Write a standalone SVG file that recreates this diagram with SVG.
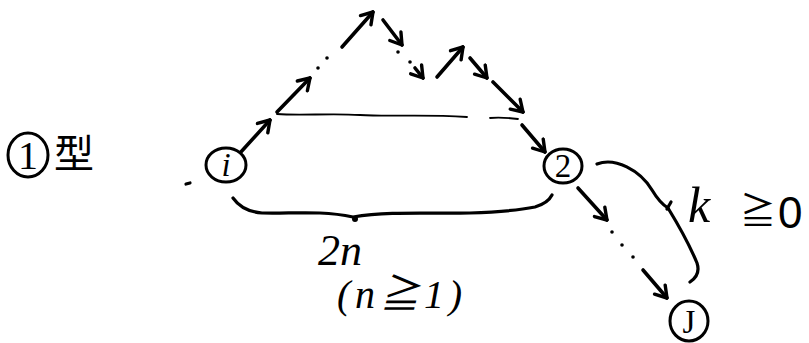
<svg xmlns="http://www.w3.org/2000/svg" width="809" height="343" viewBox="0 0 809 343">
<style>
.ln{fill:none;stroke:#000;stroke-width:3.2;stroke-linecap:round;stroke-linejoin:round}
.ar{fill:none;stroke:#000;stroke-width:3.6;stroke-linecap:round;marker-end:url(#hd)}
.dash{fill:none;stroke:#000;stroke-width:1.8;stroke-linecap:round}
.nd{fill:#fff;stroke:#000;stroke-width:3}
.t{font-family:"Liberation Serif","Noto Sans CJK JP",serif;fill:#000}
.nl{font-family:"Liberation Serif",serif;font-size:33px;text-anchor:middle;fill:#000}
.dot{fill:#000}
</style>
<defs>
<marker id="hd" viewBox="-14 -9 16 18" refX="0" refY="0" markerWidth="16" markerHeight="18" markerUnits="userSpaceOnUse" orient="auto">
<path d="M-11,-7 L0,0 L-11,7" fill="none" stroke="#000" stroke-width="3.4" stroke-linecap="round" stroke-linejoin="round"/>
</marker>
</defs>
<rect width="809" height="343" fill="#fff"/>

<g id="title">
<ellipse cx="28" cy="155" rx="20" ry="22" class="nd"/>
<text class="t" x="28" y="169" font-size="40" text-anchor="middle">1</text>
<text class="t" x="54" y="168" font-size="40">型</text>
</g>

<g id="connectors">
<path class="dash" d="M277,114 C300,116 330,113 360,115 C390,117 420,114 467,117"/>
<path class="dash" d="M490,118 C500,117 510,118 518,119"/>
<line class="ar" x1="240" y1="153" x2="270" y2="120"/>
<line class="ar" x1="277" y1="112" x2="310" y2="78"/>
<line class="ar" x1="342" y1="47" x2="373" y2="12"/>
<line class="ar" x1="383" y1="20" x2="402" y2="45"/>
<line class="ar" x1="415" y1="68" x2="423" y2="78"/>
<line class="ar" x1="437" y1="77" x2="463" y2="47"/>
<line class="ar" x1="470" y1="58" x2="487" y2="78"/>
<line class="ar" x1="493" y1="82" x2="523" y2="112"/>
<line class="ar" x1="522" y1="125" x2="545" y2="152"/>
<line class="ar" x1="578" y1="188" x2="607" y2="220"/>
<line class="ar" x1="643" y1="270" x2="667" y2="298"/>
<circle class="dot" cx="318" cy="68" r="1.8"/>
<circle class="dot" cx="327" cy="58" r="1.8"/>
<circle class="dot" cx="398" cy="52" r="1.8"/>
<circle class="dot" cx="410" cy="62" r="1.8"/>
<circle class="dot" cx="612" cy="232" r="1.8"/>
<circle class="dot" cx="622" cy="245" r="1.8"/>
<circle class="dot" cx="633" cy="257" r="1.8"/>
<line class="ln" x1="186" y1="184" x2="190" y2="183" stroke-width="1.5"/>
</g>

<g id="node-start">
<ellipse cx="226" cy="165" rx="20" ry="17" class="nd"/>
<text class="nl" x="226" y="176" font-style="italic">i</text>
</g>
<g id="node-mid">
<ellipse cx="563" cy="166" rx="19" ry="17" class="nd"/>
<text class="nl" x="563" y="177">2</text>
</g>
<g id="node-end">
<ellipse cx="689" cy="321" rx="19" ry="20" class="nd"/>
<text class="nl" x="689" y="333">J</text>
</g>

<g id="brace-bottom">
<path class="ln" d="M233,198 C240,208 250,212 262,213 C290,214 320,210 353,217 C390,211 430,214 470,213 C500,212 520,210 535,207 C545,204 550,199 552,195"/>
<circle class="dot" cx="355" cy="219" r="3"/>
<text class="t" x="318" y="265" font-size="44" font-style="italic">2n</text>
<text class="t" x="337" y="308" font-size="40" font-style="italic" textLength="125" lengthAdjust="spacing">(n≧1)</text>
</g>

<g id="brace-right">
<path class="ln" d="M597,164 C615,157 640,170 652,190 C658,200 663,205 668,208 C679,226 690,246 697,263 C700,272 696,278 690,282"/>
<line class="ln" x1="667" y1="209" x2="671" y2="202"/>
<text class="t" font-size="50" font-style="italic"><tspan x="688" y="222">k</tspan><tspan x="740" y="224" font-family="Liberation Sans,Noto Sans CJK JP,sans-serif" font-size="36" font-style="normal">≧</tspan><tspan x="778" y="228" font-family="Liberation Sans,sans-serif" font-size="44" font-style="normal">0</tspan></text>
</g>
</svg>
